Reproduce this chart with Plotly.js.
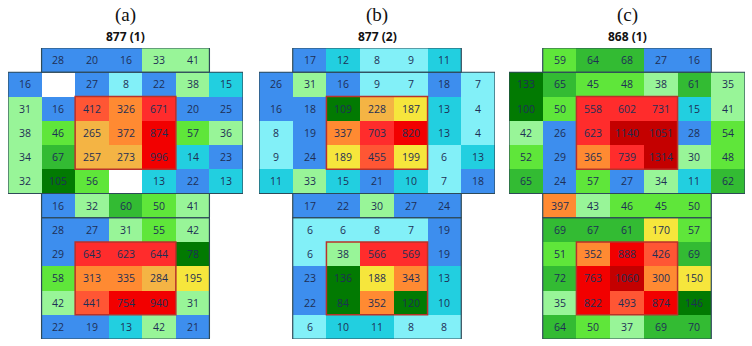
<!DOCTYPE html>
<html>
<head>
<meta charset="utf-8">
<script src="https://cdn.plot.ly/plotly-3.0.1.min.js"></script>
<style>html,body{margin:0;padding:0;background:#fff;}#chart{width:752px;height:346px;}</style>
</head>
<body>
<div id="chart"></div>
<script>
// ---- data (null = no cell / empty cell) ----
const panelLetters = ['(a)', '(b)', '(c)'];
const panelTitles = ['877 (1)', '877 (2)', '868 (1)'];

const gridA = [
  [null, 28, 20, 16, 33, 41, null],
  [16, null, 27, 8, 22, 38, 15],
  [31, 16, 412, 326, 671, 20, 25],
  [38, 46, 265, 372, 874, 57, 36],
  [34, 67, 257, 273, 996, 14, 23],
  [32, 105, 56, null, 13, 22, 13],
  [null, 16, 32, 60, 50, 41, null],
  [null, 28, 27, 31, 55, 42, null],
  [null, 29, 643, 623, 644, 78, null],
  [null, 58, 313, 335, 284, 195, null],
  [null, 42, 441, 754, 940, 31, null],
  [null, 22, 19, 13, 42, 21, null]
];
const gridB = [
  [null, 17, 12, 8, 9, 11, null],
  [26, 31, 16, 9, 7, 18, 7],
  [16, 18, 109, 228, 187, 13, 4],
  [8, 19, 337, 703, 820, 13, 4],
  [9, 24, 189, 455, 199, 6, 13],
  [11, 33, 15, 21, 10, 7, 18],
  [null, 17, 22, 30, 27, 24, null],
  [null, 6, 6, 8, 7, 19, null],
  [null, 6, 38, 566, 569, 19, null],
  [null, 23, 136, 188, 343, 13, null],
  [null, 22, 84, 352, 120, 10, null],
  [null, 6, 10, 11, 8, 8, null]
];
const gridC = [
  [null, 59, 64, 68, 27, 16, null],
  [133, 65, 45, 48, 38, 61, 35],
  [100, 50, 558, 602, 731, 15, 41],
  [42, 26, 623, 1140, 1051, 28, 54],
  [52, 29, 365, 739, 1314, 30, 48],
  [65, 24, 57, 27, 34, 11, 62],
  [null, 397, 43, 46, 45, 50, null],
  [null, 69, 67, 61, 170, 57, null],
  [null, 51, 352, 888, 426, 69, null],
  [null, 72, 763, 1060, 300, 150, null],
  [null, 35, 822, 493, 874, 146, null],
  [null, 64, 50, 37, 69, 70, null]
];

// colour classes: lower bounds of each class after the first
const classBreaks = [10, 16, 30, 45, 60, 75, 150, 200, 300, 400, 500, 750, 1000];
const classColors = ['#82F0F8', '#22CFE0', '#3D8EEE', '#98F598', '#5FE63A', '#33BB33', '#027A02',
                     '#F6E63C', '#F4B444', '#FF8A32', '#FF5634', '#FF2C2C', '#F20000', '#C40000'];

// ---- build ----
const grids = [gridA, gridB, gridC];
const xDomPx = [[8, 243], [259, 495], [509, 745]];
const W = 752, H = 346;
const yTopPx = 48, yBotPx = 339;

function cls(v) {
  if (v === null) return null;
  let k = 0;
  for (const b of classBreaks) if (v >= b) k++;
  return k;
}
const nC = classColors.length;
const colorscale = [];
classColors.forEach((c, i) => { colorscale.push([i / nC, c]); colorscale.push([(i + 1) / nC, c]); });

const traces = [];
const layout = {
  width: W, height: H,
  margin: {l: 0, r: 0, t: 0, b: 0},
  paper_bgcolor: '#fff', plot_bgcolor: 'rgba(0,0,0,0)',
  showlegend: false,
  shapes: [], annotations: []
};
const xs = [0, 1, 2, 3, 4, 5, 6];
const ys = [0, 1, 2, 3, 4, 5, 6, 7, 8, 9, 10, 11];

grids.forEach((g, p) => {
  const sfx = p === 0 ? '' : String(p + 1);
  traces.push({
    type: 'heatmap',
    x: xs, y: ys,
    z: g.map(r => r.map(cls)),
    text: g.map(r => r.map(v => v === null ? '' : String(v))),
    texttemplate: '%{text}',
    textfont: {family: 'Open Sans, Liberation Sans, sans-serif', size: 10.5, color: '#1E2F55'},
    colorscale: colorscale, zmin: -0.5 + 0.5, zmax: nC, showscale: false,
    xgap: 0, ygap: 0, hoverinfo: 'skip',
    xaxis: 'x' + sfx, yaxis: 'y' + sfx
  });
  // fix zmin/zmax so class k maps to band k
  traces[traces.length - 1].zmin = -0.5;
  traces[traces.length - 1].zmax = nC - 0.5;

  layout['xaxis' + sfx] = {
    domain: [xDomPx[p][0] / W, xDomPx[p][1] / W], range: [-0.5, 6.5],
    visible: false, fixedrange: true, anchor: 'y' + sfx
  };
  layout['yaxis' + sfx] = {
    domain: [1 - yBotPx / H, 1 - yTopPx / H], range: [11.5, -0.5],
    visible: false, fixedrange: true, anchor: 'x' + sfx
  };
  const xr = 'x' + sfx, yr = 'y' + sfx;
  const edge = {color: '#2E4A58', width: 1.2};
  const boxes = [[0.5, 5.5, -0.5, 0.5], [-0.5, 6.5, 0.5, 5.5], [0.5, 5.5, 5.5, 6.5], [0.5, 5.5, 6.5, 11.5]];
  boxes.forEach(b => layout.shapes.push({type: 'rect', xref: xr, yref: yr, x0: b[0], x1: b[1], y0: b[2], y1: b[3], line: edge}));
  const red = {color: '#B8322A', width: 1.5};
  [[1.5, 4.5], [7.5, 10.5]].forEach(yy => layout.shapes.push({type: 'rect', xref: xr, yref: yr, x0: 1.5, x1: 4.5, y0: yy[0], y1: yy[1], line: red}));

  const cx = (xDomPx[p][0] + xDomPx[p][1]) / 2 / W;
  layout.annotations.push({
    xref: 'paper', yref: 'paper', x: cx, y: 1 - 15 / H, xanchor: 'center', yanchor: 'middle',
    text: panelLetters[p], showarrow: false,
    font: {family: 'Liberation Serif, DejaVu Serif, serif', size: 19, color: '#111'}
  });
  layout.annotations.push({
    xref: 'paper', yref: 'paper', x: cx, y: 1 - 37 / H, xanchor: 'center', yanchor: 'middle',
    text: '<b>' + panelTitles[p] + '</b>', showarrow: false,
    font: {family: 'Open Sans, Liberation Sans, sans-serif', size: 12, color: '#111'}
  });
});

Plotly.newPlot('chart', traces, layout, {staticPlot: true, displayModeBar: false});
</script>
</body>
</html>
